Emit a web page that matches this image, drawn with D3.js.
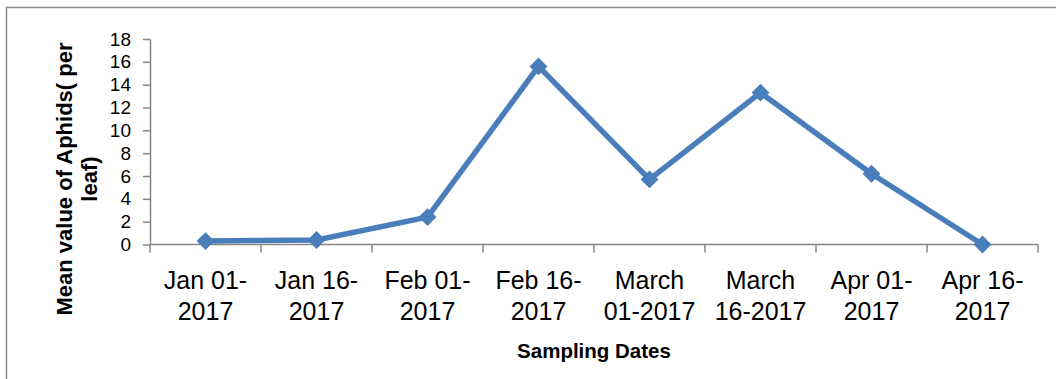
<!DOCTYPE html>
<html>
<head>
<meta charset="utf-8">
<script src="https://cdn.jsdelivr.net/npm/d3@7"></script>
<style>
  html, body { margin: 0; padding: 0; background: #fff; }
  svg { display: block; }
</style>
</head>
<body>
<svg id="chart" width="1056" height="379"></svg>
<script>
// Sampling dates (two-line labels) and mean aphid counts per leaf
const dateLine1 = ["Jan 01-", "Jan 16-", "Feb 01-", "Feb 16-", "March", "March", "Apr 01-", "Apr 16-"];
const dateLine2 = ["2017", "2017", "2017", "2017", "01-2017", "16-2017", "2017", "2017"];
const aphids = [0.3, 0.4, 2.4, 15.6, 5.7, 13.3, 6.2, 0];
const yTicks = [0, 2, 4, 6, 8, 10, 12, 14, 16, 18];

const svg = d3.select("#chart");
const axisColor = "#868686";
const lineColor = "#4a7ebb";

// chart frame
svg.append("rect")
  .attr("x", 6.5).attr("y", 7.5)
  .attr("width", 1100).attr("height", 400)
  .attr("fill", "none").attr("stroke", "#8c8c8c").attr("stroke-width", 1.5);

const x = d3.scaleBand().domain(d3.range(aphids.length)).range([150, 1038]).padding(0);
const y = d3.scaleLinear().domain([0, 18]).range([244.5, 39]);

// y axis
const yAxis = svg.append("g").attr("transform", "translate(150,0)")
  .call(d3.axisLeft(y).tickValues(yTicks).tickSize(7).tickPadding(12).tickSizeOuter(0));
yAxis.select(".domain").attr("stroke", axisColor).attr("stroke-width", 1.5);
yAxis.selectAll(".tick line").attr("stroke", axisColor).attr("stroke-width", 1.5);
yAxis.selectAll(".tick text")
  .attr("fill", "#000")
  .style("font-family", "'Liberation Sans Narrow', 'Liberation Sans', sans-serif")
  .style("font-size", "19px");

// x axis: ticks at category boundaries
svg.append("line")
  .attr("x1", 150).attr("x2", 1038).attr("y1", y(0)).attr("y2", y(0))
  .attr("stroke", axisColor).attr("stroke-width", 1.5);
const bounds = d3.range(aphids.length + 1).map(i => i < aphids.length ? x(i) : x(aphids.length - 1) + x.bandwidth());
svg.selectAll(".xtick").data(bounds).join("line")
  .attr("class", "xtick")
  .attr("x1", d => d).attr("x2", d => d)
  .attr("y1", y(0)).attr("y2", y(0) + 8)
  .attr("stroke", axisColor).attr("stroke-width", 1.5);

const xLabels = svg.selectAll(".xlab").data(aphids.map((_, i) => i)).join("text")
  .attr("class", "xlab")
  .attr("text-anchor", "middle")
  .style("font-family", "'Liberation Sans Narrow', 'Liberation Sans', sans-serif")
  .style("font-size", "25px")
  .attr("fill", "#000");
xLabels.append("tspan").attr("x", i => x(i) + x.bandwidth() / 2).attr("y", 289).text(i => dateLine1[i]);
xLabels.append("tspan").attr("x", i => x(i) + x.bandwidth() / 2).attr("y", 320).text(i => dateLine2[i]);

// axis titles
svg.append("text")
  .attr("x", 594).attr("y", 358)
  .attr("text-anchor", "middle")
  .style("font-family", "'Liberation Sans', sans-serif")
  .style("font-weight", "bold")
  .style("font-size", "20.5px")
  .text("Sampling Dates");

const yTitle = svg.append("text")
  .attr("transform", "translate(0,179) rotate(-90)")
  .attr("text-anchor", "middle")
  .style("font-family", "'Liberation Sans', sans-serif")
  .style("font-weight", "bold")
  .style("font-size", "22px");
yTitle.append("tspan").attr("x", 0).attr("y", 72).text("Mean value of Aphids( per");
yTitle.append("tspan").attr("x", 0).attr("y", 97).text("leaf)");

// data line and diamond markers
const line = d3.line().x((d, i) => x(i) + x.bandwidth() / 2).y(d => y(d));
svg.append("path")
  .datum(aphids)
  .attr("d", line)
  .attr("fill", "none")
  .attr("stroke", lineColor)
  .attr("stroke-width", 5.5)
  .attr("stroke-linejoin", "round");

svg.selectAll(".marker").data(aphids).join("path")
  .attr("class", "marker")
  .attr("d", d3.symbol().type(d3.symbolSquare).size(160))
  .attr("transform", (d, i) => `translate(${x(i) + x.bandwidth() / 2},${y(d)}) rotate(45)`)
  .attr("fill", lineColor);
</script>
</body>
</html>
